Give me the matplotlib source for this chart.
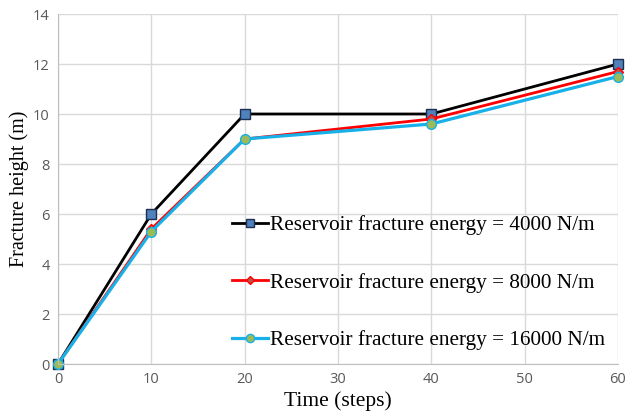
import matplotlib
matplotlib.use("Agg")
import matplotlib.pyplot as plt

time_steps = [0, 10, 20, 40, 60]
height_4000 = [0, 6, 10, 10, 12]
height_8000 = [0, 5.4, 9, 9.8, 11.7]
height_16000 = [0, 5.3, 9, 9.6, 11.5]
labels = ["Reservoir fracture energy = 4000 N/m",
          "Reservoir fracture energy = 8000 N/m",
          "Reservoir fracture energy = 16000 N/m"]

fig = plt.figure(figsize=(6.26, 4.18), dpi=100)
ax = fig.add_axes([58 / 626, 1 - 364 / 418, 560 / 626, 350 / 418])

ax.plot(time_steps, height_4000, color="black", linewidth=2, marker="s", markersize=7,
        markerfacecolor="#4f81bd", markeredgecolor="#1f2f4f", markeredgewidth=1,
        label=labels[0], clip_on=False)
ax.plot(time_steps, height_8000, color="#ff0000", linewidth=2, marker="D", markersize=5,
        markerfacecolor="#c0504d", markeredgecolor="#ff0000", markeredgewidth=1,
        label=labels[1], clip_on=False)
ax.plot(time_steps, height_16000, color="#17b0e8", linewidth=2.3, marker="o", markersize=7,
        markerfacecolor="#9bbb59", markeredgecolor="#17b0e8", markeredgewidth=1,
        label=labels[2], clip_on=False)

ax.set_xlim(0, 60)
ax.set_ylim(0, 14)
ax.set_xticks(range(0, 61, 10))
ax.set_yticks(range(0, 15, 2))
ax.grid(True, color="#d9d9d9", linewidth=1)
ax.set_axisbelow(True)
for side in ["top", "right"]:
    ax.spines[side].set_visible(False)
ax.spines["left"].set_color("#bfbfbf")
ax.spines["bottom"].set_color("#bfbfbf")
ax.tick_params(length=0, pad=6, labelsize=10.5, labelcolor="#595959")
for lbl in ax.get_xticklabels() + ax.get_yticklabels():
    lbl.set_fontfamily("Open Sans")

ax.set_xlabel("Time (steps)", fontfamily="Liberation Serif", fontsize=15.5, labelpad=3)
ax.set_ylabel("Fracture height (m)", fontfamily="Liberation Serif", fontsize=14.5, labelpad=3)

leg = ax.legend(loc="center left", bbox_to_anchor=(0.31, 0.232), frameon=False,
                prop={"family": "Liberation Serif", "size": 15.3}, labelspacing=1.78,
                handlelength=1.7, handletextpad=0.1, borderpad=0, borderaxespad=0,
                markerscale=0.85)

fig.savefig("out.png", dpi=100)
